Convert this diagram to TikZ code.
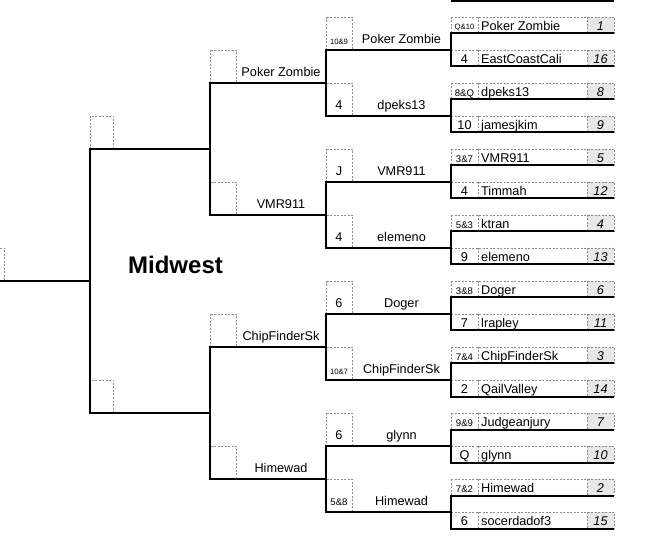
\documentclass[tikz,border=0pt]{standalone}
\usepackage{fontspec}
\setmainfont{Liberation Sans}
\usepackage{tikz}
\usetikzlibrary{positioning}

\begin{document}
\begin{tikzpicture}[
  x=1pt, y=-16.5pt,
  every node/.style={inner sep=0pt, font=\fontsize{12.7}{14}\selectfont},
  wire/.style={line width=2pt, black},
  cell/.style={black!45, line width=0.75pt, dash pattern=on 2pt off 1.5pt},
  seedbox/.style={fill=black!9},
  player/.style={anchor=base west},
  winner/.style={anchor=base},
  score/.style={anchor=base},
  smallscore/.style={anchor=base, font=\fontsize{9.6}{11}\selectfont},
  tinyscore/.style={anchor=base, font=\fontsize{7.7}{9}\selectfont},
  seed/.style={anchor=base, font=\fontsize{12.7}{14}\selectfont\itshape},
]
  \useasboundingbox (0,-0.03) rectangle (662,32.697);

  \fill[seedbox] (587,1) rectangle (614,2) (587,3) rectangle (614,4) (587,5) rectangle (614,6) (587,7) rectangle (614,8)
    (587,9) rectangle (614,10) (587,11) rectangle (614,12) (587,13) rectangle (614,14) (587,15) rectangle (614,16)
    (587,17) rectangle (614,18) (587,19) rectangle (614,20) (587,21) rectangle (614,22) (587,23) rectangle (614,24)
    (587,25) rectangle (614,26) (587,27) rectangle (614,28) (587,29) rectangle (614,30) (587,31) rectangle (614,32);

  \draw[cell] (451,1) rectangle (614,2) (478,1) -- (478,2) (587,1) -- (587,2) (451,3) rectangle (614,4) (478,3) -- (478,4) (587,3) -- (587,4);
  \draw[cell] (451,5) rectangle (614,6) (478,5) -- (478,6) (587,5) -- (587,6) (451,7) rectangle (614,8) (478,7) -- (478,8) (587,7) -- (587,8);
  \draw[cell] (451,9) rectangle (614,10) (478,9) -- (478,10) (587,9) -- (587,10) (451,11) rectangle (614,12) (478,11) -- (478,12) (587,11) -- (587,12);
  \draw[cell] (451,13) rectangle (614,14) (478,13) -- (478,14) (587,13) -- (587,14) (451,15) rectangle (614,16) (478,15) -- (478,16) (587,15) -- (587,16);
  \draw[cell] (451,17) rectangle (614,18) (478,17) -- (478,18) (587,17) -- (587,18) (451,19) rectangle (614,20) (478,19) -- (478,20) (587,19) -- (587,20);
  \draw[cell] (451,21) rectangle (614,22) (478,21) -- (478,22) (587,21) -- (587,22) (451,23) rectangle (614,24) (478,23) -- (478,24) (587,23) -- (587,24);
  \draw[cell] (451,25) rectangle (614,26) (478,25) -- (478,26) (587,25) -- (587,26) (451,27) rectangle (614,28) (478,27) -- (478,28) (587,27) -- (587,28);
  \draw[cell] (451,29) rectangle (614,30) (478,29) -- (478,30) (587,29) -- (587,30) (451,31) rectangle (614,32) (478,31) -- (478,32) (587,31) -- (587,32);

  \draw[cell] (326,1) rectangle (352,3) (326,5) rectangle (352,7) (326,9) rectangle (352,11) (326,13) rectangle (352,15)
    (326,17) rectangle (352,19) (326,21) rectangle (352,23) (326,25) rectangle (352,27) (326,29) rectangle (352,31);
  \draw[cell] (210,3) rectangle (236,5) (210,11) rectangle (236,13) (210,19) rectangle (236,21) (210,27) rectangle (236,29);
  \draw[cell] (90,7) rectangle (113,9) (90,23) rectangle (113,25);
  \draw[cell] (0,15) -- (4.5,15) -- (4.5,17);

  \draw[wire] (451,0.03) -- (614,0.03);
  \draw[wire] (614,2) -- (451,2) -- (451,4) -- (614,4);
  \draw[wire] (614,6) -- (451,6) -- (451,8) -- (614,8);
  \draw[wire] (614,10) -- (451,10) -- (451,12) -- (614,12);
  \draw[wire] (614,14) -- (451,14) -- (451,16) -- (614,16);
  \draw[wire] (614,18) -- (451,18) -- (451,20) -- (614,20);
  \draw[wire] (614,22) -- (451,22) -- (451,24) -- (614,24);
  \draw[wire] (614,26) -- (451,26) -- (451,28) -- (614,28);
  \draw[wire] (614,30) -- (451,30) -- (451,32) -- (614,32);

  \draw[wire] (451,3) -- (326,3) -- (326,7) -- (451,7);
  \draw[wire] (451,11) -- (326,11) -- (326,15) -- (451,15);
  \draw[wire] (451,19) -- (326,19) -- (326,23) -- (451,23);
  \draw[wire] (451,27) -- (326,27) -- (326,31) -- (451,31);
  \draw[wire] (326,5) -- (210,5) -- (210,13) -- (326,13);
  \draw[wire] (326,21) -- (210,21) -- (210,29) -- (326,29);
  \draw[wire] (210,9) -- (90,9) -- (90,25) -- (210,25);
  \draw[wire] (90,17) -- (0,17);

  \node[tinyscore] (sc1) at (464.5,1.73) {Q\&10};   \node[player] (a1) at (481,1.84) {Poker Zombie};  \node[seed] (sd1) at (600.5,1.84) {1};
  \node[score] (sc2) at (464.5,3.84) {4};         \node[player] (a2) at (481,3.84) {EastCoastCali}; \node[seed] (sd2) at (600.5,3.84) {16};
  \node[smallscore] (sc3) at (464.5,5.83) {8\&Q};   \node[player] (a3) at (481,5.84) {dpeks13};       \node[seed] (sd3) at (600.5,5.84) {8};
  \node[score] (sc4) at (464.5,7.84) {10};        \node[player] (a4) at (481,7.84) {jamesjkim};     \node[seed] (sd4) at (600.5,7.84) {9};
  \node[smallscore] (sc5) at (464.5,9.83) {3\&7};   \node[player] (a5) at (481,9.84) {VMR911};        \node[seed] (sd5) at (600.5,9.84) {5};
  \node[score] (sc6) at (464.5,11.84) {4};        \node[player] (a6) at (481,11.84) {Timmah};       \node[seed] (sd6) at (600.5,11.84) {12};
  \node[smallscore] (sc7) at (464.5,13.83) {5\&3};  \node[player] (a7) at (481,13.84) {ktran};        \node[seed] (sd7) at (600.5,13.84) {4};
  \node[score] (sc8) at (464.5,15.84) {9};        \node[player] (a8) at (481,15.84) {elemeno};      \node[seed] (sd8) at (600.5,15.84) {13};
  \node[smallscore] (sc9) at (464.5,17.83) {3\&8};  \node[player] (a9) at (481,17.84) {Doger};        \node[seed] (sd9) at (600.5,17.84) {6};
  \node[score] (sc10) at (464.5,19.84) {7};       \node[player] (a10) at (481,19.84) {lrapley};     \node[seed] (sd10) at (600.5,19.84) {11};
  \node[smallscore] (sc11) at (464.5,21.83) {7\&4}; \node[player] (a11) at (481,21.84) {ChipFinderSk}; \node[seed] (sd11) at (600.5,21.84) {3};
  \node[score] (sc12) at (464.5,23.84) {2};       \node[player] (a12) at (481,23.84) {QailValley};  \node[seed] (sd12) at (600.5,23.84) {14};
  \node[smallscore] (sc13) at (464.5,25.83) {9\&9}; \node[player] (a13) at (481,25.84) {Judgeanjury}; \node[seed] (sd13) at (600.5,25.84) {7};
  \node[score] (sc14) at (464.5,27.84) {Q};       \node[player] (a14) at (481,27.84) {glynn};       \node[seed] (sd14) at (600.5,27.84) {10};
  \node[smallscore] (sc15) at (464.5,29.83) {7\&2}; \node[player] (a15) at (481,29.84) {Himewad};     \node[seed] (sd15) at (600.5,29.84) {2};
  \node[score] (sc16) at (464.5,31.84) {6};       \node[player] (a16) at (481,31.84) {socerdadof3}; \node[seed] (sd16) at (600.5,31.84) {15};

  \node[tinyscore] (bs1) at (339,2.64) {10\&9};  \node[winner] (b1) at (401.5,2.63) {Poker Zombie};
  \node[score] (bs2) at (339,6.63) {4};          \node[winner] (b2) at (401.5,6.63) {dpeks13};
  \node[score] (bs3) at (339,10.63) {J};         \node[winner] (b3) at (401.5,10.63) {VMR911};
  \node[score] (bs4) at (339,14.63) {4};         \node[winner] (b4) at (401.5,14.63) {elemeno};
  \node[score] (bs5) at (339,18.63) {6};         \node[winner] (b5) at (401.5,18.63) {Doger};
  \node[tinyscore] (bs6) at (339,22.64) {10\&7}; \node[winner] (b6) at (401.5,22.63) {ChipFinderSk};
  \node[score] (bs7) at (339,26.63) {6};         \node[winner] (b7) at (401.5,26.63) {glynn};
  \node[smallscore] (bs8) at (339,30.63) {5\&8}; \node[winner] (b8) at (401.5,30.63) {Himewad};

  \node[winner] (c1) at (281,4.63) {Poker Zombie};
  \node[winner] (c2) at (281,12.63) {VMR911};
  \node[winner] (c3) at (281,20.63) {ChipFinderSk};
  \node[winner] (c4) at (281,28.63) {Himewad};

  \node[anchor=base, font=\fontsize{24}{28}\selectfont\bfseries] (region) at (175.5,16.52) {Midwest};
\end{tikzpicture}
\end{document}
